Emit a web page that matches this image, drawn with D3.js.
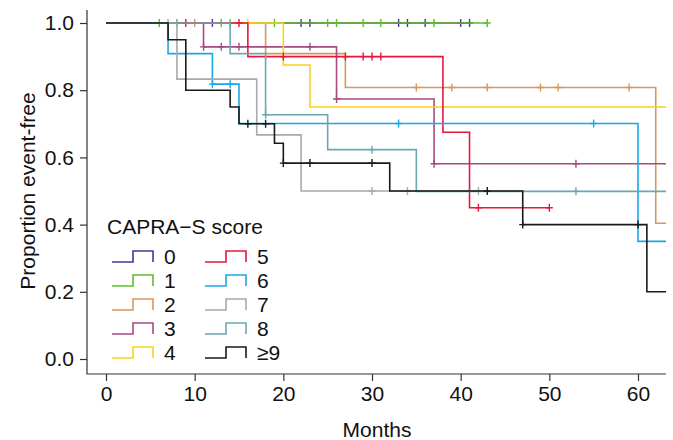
<!DOCTYPE html>
<html>
<head>
<meta charset="utf-8">
<script src="https://cdn.jsdelivr.net/npm/d3@7"></script>
<style>
  body { margin: 0; background: #fff; }
  svg { display: block; font-family: "Liberation Sans", Arial, Helvetica, sans-serif; }
</style>
</head>
<body>
<svg id="chart" width="673" height="440"></svg>
<script>
// CAPRA-S groups, in drawing order (last one ends up on top)
var groups = ["0", "1", "2", "3", "4", "5", "6", "7", "8", "\u22659"];

// times (months) where each curve steps down, and the level after the step
var eventTimes = [
  [],
  [],
  [18, 27, 62],
  [11, 26, 37],
  [20, 23],
  [16, 38, 41],
  [7, 12, 15, 60],
  [8, 17, 22],
  [14, 18, 25, 35],
  [7, 9, 14, 15, 19, 20, 32, 47, 61]
];
var eventSurv = [
  [],
  [],
  [0.909, 0.808, 0.404],
  [0.929, 0.774, 0.581],
  [0.875, 0.75],
  [0.9, 0.675, 0.45],
  [0.909, 0.818, 0.701, 0.35],
  [0.833, 0.667, 0.5],
  [0.909, 0.727, 0.623, 0.499],
  [0.95, 0.8, 0.75, 0.7, 0.642, 0.583, 0.5, 0.4, 0.2]
];
// censored observations (+ marks)
var censorTimes = [
  [12, 22, 23, 33, 34, 36, 40, 41],
  [6, 8, 13, 14, 19, 25, 26, 29, 31, 37, 43],
  [7, 10, 35, 39, 43, 49, 51, 59],
  [11, 13, 15, 23, 26, 37, 53],
  [16],
  [9, 15, 20, 27, 29, 30, 31, 42, 50],
  [12, 14, 33, 55],
  [30, 34, 42],
  [18, 30, 53],
  [16, 18, 20, 23, 30, 43, 47, 60]
];
// last follow-up of each group
var lastTime = [41, 43, 66, 66, 66, 50, 66, 42, 66, 66];

var xTicks = [0, 10, 20, 30, 40, 50, 60];
var yTicks = [0, 0.2, 0.4, 0.6, 0.8, 1.0];

var colors = ["#55309a", "#5dbd2e", "#d6985f", "#a64a82", "#f8d31c",
              "#e5173f", "#1ba7e6", "#a9a9a9", "#6aa7b3", "#1a1a1a"];

var fontSize = "21px";

var svg = d3.select("#chart");
var plotLeft = 87, plotRight = 666, plotTop = 10, plotBottom = 374;

var x = d3.scaleLinear().domain([0, 60]).range([106, 638]);
var y = d3.scaleLinear().domain([0, 1]).range([359, 23]);

svg.append("clipPath").attr("id", "clip")
  .append("rect")
  .attr("x", plotLeft).attr("y", plotTop)
  .attr("width", plotRight - plotLeft).attr("height", plotBottom - plotTop);

// axes
var xAxis = svg.append("g")
  .attr("transform", "translate(0," + plotBottom + ")")
  .call(d3.axisBottom(x).tickValues(xTicks).tickSize(7).tickPadding(5).tickSizeOuter(0));
var yAxis = svg.append("g")
  .attr("transform", "translate(" + plotLeft + ",0)")
  .call(d3.axisLeft(y).tickValues(yTicks).tickSize(7).tickPadding(6)
    .tickFormat(d3.format(".1f")).tickSizeOuter(0));

[xAxis, yAxis].forEach(function(a) {
  a.select(".domain").remove();
  a.selectAll("line").attr("stroke", "#333").attr("stroke-width", 1.2);
  a.selectAll("text").attr("fill", "#111").style("font-size", fontSize)
    .style("font-family", "\"Liberation Sans\", Arial, sans-serif");
});

// L-shaped frame
svg.append("path")
  .attr("d", "M" + plotLeft + "," + plotTop + "V" + plotBottom + "H" + plotRight)
  .attr("fill", "none").attr("stroke", "#333").attr("stroke-width", 1.2);

svg.append("text")
  .attr("x", 377).attr("y", 437)
  .attr("text-anchor", "middle").style("font-size", fontSize).attr("fill", "#111")
  .text("Months");
svg.append("text")
  .attr("transform", "translate(35,191) rotate(-90)")
  .attr("text-anchor", "middle").style("font-size", fontSize).attr("fill", "#111")
  .text("Proportion event-free");

// survival curves
var line = d3.line()
  .x(function(d) { return x(d[0]); })
  .y(function(d) { return y(d[1]); })
  .curve(d3.curveStepAfter);

function survAt(g, t) {
  var s = 1;
  eventTimes[g].forEach(function(et, i) { if (et <= t) s = eventSurv[g][i]; });
  return s;
}

var curves = svg.append("g").attr("clip-path", "url(#clip)");

groups.forEach(function(name, g) {
  var pts = [[0, 1]];
  eventTimes[g].forEach(function(t, i) { pts.push([t, eventSurv[g][i]]); });
  pts.push([lastTime[g], survAt(g, lastTime[g])]);

  var grp = curves.append("g");
  grp.append("path")
    .attr("d", line(pts))
    .attr("fill", "none")
    .attr("stroke", colors[g])
    .attr("stroke-width", 1.6);

  grp.selectAll("path.cens")
    .data(censorTimes[g])
    .enter()
      .append("path")
      .attr("class", "cens")
      .attr("d", function(t) {
        var cx = x(t), cy = y(survAt(g, t));
        return "M" + (cx - 3.5) + "," + cy + "h7M" + cx + "," + (cy - 4) + "v8";
      })
      .attr("stroke", colors[g])
      .attr("stroke-width", 1.4)
      .attr("fill", "none");
});

// legend
var legend = svg.append("g");
legend.append("text")
  .attr("x", 107).attr("y", 234)
  .style("font-size", fontSize).attr("fill", "#111")
  .text("CAPRA\u2212S score");

var item = legend.selectAll("g.item")
  .data(groups)
  .enter()
    .append("g")
    .attr("class", "item")
    .attr("transform", function(d, i) {
      var col = Math.floor(i / 5), row = i % 5;
      return "translate(" + (112 + col * 93) + "," + (262 + row * 24) + ")";
    });

item.append("path")
  .attr("d", "M0,0H21V-11H41V0")
  .attr("fill", "none")
  .attr("stroke", function(d, i) { return colors[i]; })
  .attr("stroke-width", 1.6);

item.append("text")
  .attr("x", 52).attr("y", 1.5)
  .style("font-size", fontSize).attr("fill", "#111")
  .text(function(d) { return d; });
</script>
</body>
</html>
